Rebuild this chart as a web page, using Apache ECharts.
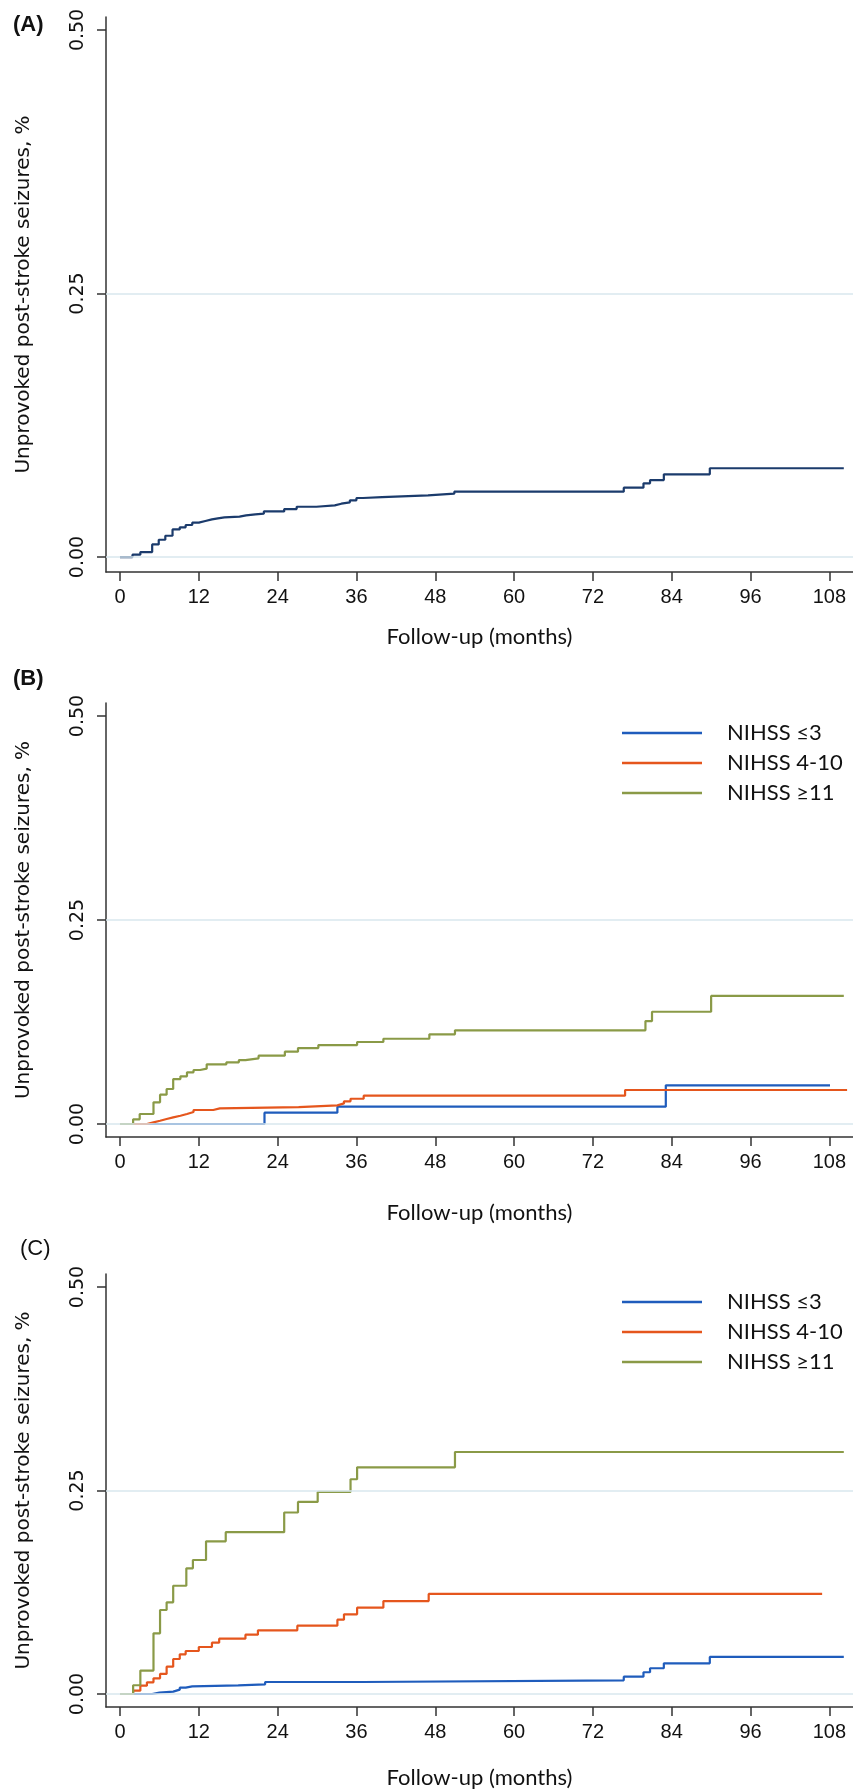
<!DOCTYPE html>
<html>
<head>
<meta charset="utf-8">
<script src="https://cdn.jsdelivr.net/npm/echarts@6/dist/echarts.min.js"></script>
<style>
  html, body { margin: 0; padding: 0; background: #fff; }
  #chart { width: 853px; height: 1792px; }
</style>
</head>
<body>
<div id="chart"></div>
<script>
// tick labels
const xTicks = [0, 12, 24, 36, 48, 60, 72, 84, 96, 108];
const yTicks = [0, 0.25, 0.5];
const legendNames = ['NIHSS \u22643', 'NIHSS 4-10', 'NIHSS \u226511'];

// (A) all patients
const allT = [0, 1.9, 3.1, 4.9, 5.9, 6.9, 8.0, 9.1, 10.0, 11.0, 12.0, 13.0, 14.0, 14.9, 15.9, 18.2, 19.2, 20.6, 21.9, 25.0, 26.9, 29.9, 32.7, 33.7, 35.0, 36.0, 37.0, 39.9, 46.9, 50.9, 76.7, 79.7, 80.7, 82.8, 89.8, 110.2];
const allV = [0, 0.0022, 0.0047, 0.012, 0.0164, 0.0202, 0.0262, 0.0282, 0.0304, 0.0326, 0.0342, 0.0357, 0.0367, 0.0376, 0.0383, 0.0395, 0.0405, 0.0411, 0.0433, 0.0455, 0.0477, 0.049, 0.0506, 0.0519, 0.0538, 0.056, 0.0569, 0.0585, 0.0601, 0.062, 0.0658, 0.0699, 0.073, 0.0785, 0.0842, 0.0842];

// (B)
const b3T = [0, 22.0, 33.1, 83.1, 108.1];
const b3V = [0, 0.0139, 0.0212, 0.0474, 0.0474];
const b410T = [0, 4.1, 5.1, 6.1, 7.1, 8.1, 9.2, 10.2, 11.2, 14.2, 15.2, 27.2, 33.1, 34.1, 35.1, 37.1, 76.9, 110.7];
const b410V = [0, 0.002, 0.004, 0.0061, 0.0082, 0.0102, 0.0123, 0.0147, 0.0172, 0.0192, 0.0208, 0.0229, 0.0253, 0.0278, 0.031, 0.0347, 0.0417, 0.0417];
const b11T = [0, 2.0, 3.0, 5.1, 6.1, 7.1, 8.1, 9.2, 10.2, 11.2, 12.2, 13.2, 16.2, 18.1, 19.1, 21.1, 25.1, 27.1, 30.2, 36.1, 40.1, 47.1, 51.0, 80.0, 81.0, 90.0, 110.2];
const b11V = [0, 0.0057, 0.0123, 0.0266, 0.036, 0.0429, 0.0551, 0.0584, 0.0633, 0.0662, 0.0678, 0.0731, 0.0756, 0.0784, 0.0805, 0.0837, 0.0886, 0.0931, 0.0968, 0.1005, 0.1045, 0.1099, 0.1148, 0.1262, 0.1376, 0.157, 0.157];

// (C)
const c3T = [0, 4.9, 6.0, 8.1, 9.1, 10.0, 11.0, 18.0, 22.1, 37.0, 76.7, 79.7, 80.7, 82.8, 89.8, 110.2];
const c3V = [0, 0.0016, 0.0029, 0.0053, 0.0078, 0.0094, 0.0106, 0.0119, 0.0147, 0.0168, 0.0213, 0.0267, 0.0316, 0.0377, 0.0455, 0.0455];
const c410T = [0, 2.0, 3.1, 4.1, 5.1, 6.1, 7.1, 8.1, 9.1, 10.0, 12.0, 14.0, 15.1, 19.1, 21.0, 27.0, 33.1, 34.1, 36.1, 40.1, 47.0, 106.9];
const c410V = [0, 0.004, 0.0102, 0.0143, 0.0192, 0.0246, 0.0336, 0.043, 0.0487, 0.0528, 0.0577, 0.063, 0.0679, 0.0729, 0.0782, 0.0839, 0.0913, 0.0979, 0.106, 0.1142, 0.1229, 0.1229];
const c11T = [0, 2.0, 3.1, 5.1, 6.1, 7.1, 8.1, 10.1, 11.1, 13.1, 16.1, 25.0, 27.1, 30.1, 35.1, 36.1, 51.0, 110.2];
const c11V = [0, 0.0107, 0.0287, 0.0745, 0.1032, 0.1126, 0.133, 0.1544, 0.1646, 0.1875, 0.1988, 0.223, 0.236, 0.2482, 0.2638, 0.2785, 0.2973, 0.2973];

const zip = (t, v) => t.map((x, i) => [x, v[i]]);

const NAVY = '#1b3b6c';
const BLUE = '#1f5cbc';
const ORANGE = '#e5561d';
const GREEN = '#8a9a47';
const AXIS = '#333333';
const GRID = '#d8e7ee';

const panels = [
  { top: 17, height: 555, ymin: -0.0142, ymax: 0.5123, nameGap: 54 },
  { top: 703, height: 434, ymin: -0.0159, ymax: 0.5159, nameGap: 65 },
  { top: 1274, height: 433, ymin: -0.016, ymax: 0.516, nameGap: 60 },
];

const grid = panels.map(p => ({ left: 106, right: 0, top: p.top, height: p.height }));

const xAxis = panels.map((p, i) => ({
  gridIndex: i,
  type: 'value',
  min: -2.13,
  max: 111.6,
  axisLine: { show: true, onZero: false, lineStyle: { color: AXIS, width: 1.5 } },
  axisTick: { show: true, length: 9, customValues: xTicks, lineStyle: { color: AXIS, width: 1.5 } },
  axisLabel: { customValues: xTicks, fontFamily: 'Liberation Sans', fontSize: 20, color: '#111', margin: 15 },
  splitLine: { show: false },
  name: 'Follow-up (months)',
  nameLocation: 'middle',
  nameGap: p.nameGap,
  nameTextStyle: { fontFamily: 'Lato', fontSize: 22, color: '#111' },
}));

const yAxis = panels.map((p, i) => ({
  gridIndex: i,
  type: 'value',
  min: p.ymin,
  max: p.ymax,
  axisLine: { show: true, onZero: false, lineStyle: { color: AXIS, width: 1.5 } },
  axisTick: { show: true, length: 9, customValues: yTicks, lineStyle: { color: AXIS, width: 1.5 } },
  axisLabel: {
    customValues: yTicks,
    rotate: 90,
    margin: 18,
    formatter: v => v.toFixed(2),
    fontFamily: 'DejaVu Sans',
    fontSize: 19,
    color: '#111',
  },
  splitLine: { show: false },
  name: 'Unprovoked post-stroke seizures, %',
  nameLocation: 'middle',
  nameRotate: 90,
  nameGap: 72,
  nameTextStyle: { fontFamily: 'DejaVu Sans', fontSize: 20, color: '#111' },
}));

// light reference lines at 0 and 0.25
const gridLines = {
  silent: true,
  symbol: 'none',
  label: { show: false },
  lineStyle: { color: GRID, width: 1.5, type: 'solid' },
  data: yTicks.filter(v => v < 0.5).map(v => ({ yAxis: v })),
};

function km(name, idx, data, color, withGrid) {
  const s = {
    name: name,
    type: 'line',
    step: 'end',
    xAxisIndex: idx,
    yAxisIndex: idx,
    data: data,
    showSymbol: false,
    symbol: 'none',
    color: color,
    lineStyle: { color: color, width: 2.2 },
  };
  if (withGrid) s.markLine = gridLines;
  return s;
}

const series = [
  km('All', 0, zip(allT, allV), NAVY, true),
  km(legendNames[0], 1, zip(b3T, b3V), BLUE, true),
  km(legendNames[1], 1, zip(b410T, b410V), ORANGE, false),
  km(legendNames[2], 1, zip(b11T, b11V), GREEN, false),
  km(legendNames[0], 2, zip(c3T, c3V), BLUE, true),
  km(legendNames[1], 2, zip(c410T, c410V), ORANGE, false),
  km(legendNames[2], 2, zip(c11T, c11V), GREEN, false),
];

const legendBase = {
  data: legendNames,
  orient: 'vertical',
  left: 617,
  icon: 'rect',
  itemWidth: 80,
  itemHeight: 2.5,
  itemGap: 0,
  textStyle: { fontFamily: 'Lato', fontSize: 22, color: '#111', lineHeight: 30, padding: [0, 0, 0, 20] },
  selectedMode: false,
};

const panelLabel = (text, x, y, bold) => ({
  type: 'text',
  left: x,
  top: y,
  style: { text: text, font: (bold ? 'bold ' : '') + '22px "Liberation Sans"', fill: '#111' },
});

const option = {
  animation: false,
  backgroundColor: '#fff',
  grid: grid,
  xAxis: xAxis,
  yAxis: yAxis,
  legend: [
    Object.assign({}, legendBase, { top: 713 }),
    Object.assign({}, legendBase, { top: 1282 }),
  ],
  graphic: [
    panelLabel('(A)', 13, 14, true),
    panelLabel('(B)', 13, 668, true),
    panelLabel('(C)', 20, 1238, false),
  ],
  series: series,
};

const chart = echarts.init(document.getElementById('chart'));
chart.setOption(option);
</script>
</body>
</html>
